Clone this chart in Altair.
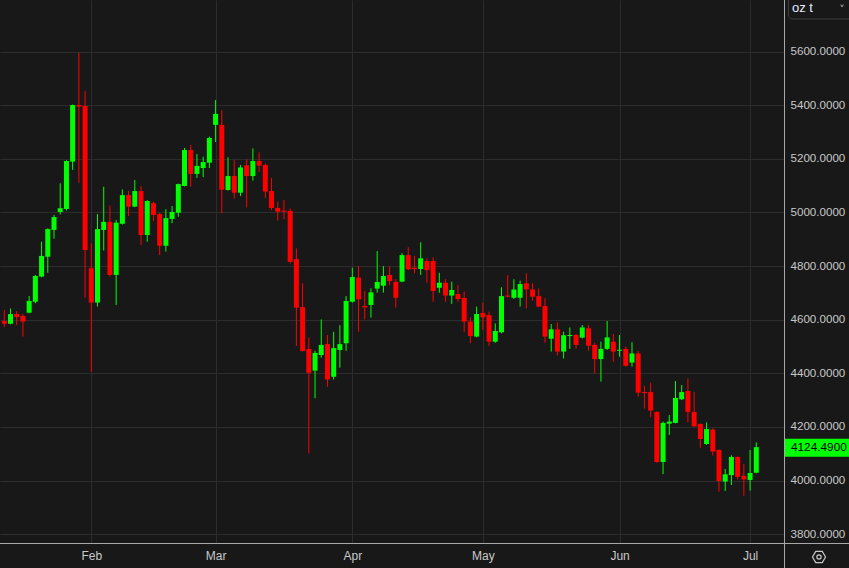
import altair as alt
import pandas as pd
import numpy as np

opens = [4595, 4585, 4621, 4614, 4626, 4667, 4761, 4835, 4935, 5002,
         5013, 5190, 5401, 5397, 4792, 4664, 4935, 4965, 4767, 4958,
         5065, 5022, 5080, 4916, 5035, 4994, 4876, 4976, 4999, 5099,
         5233, 5144, 5166, 5186, 5327, 5327, 5084, 5136, 5074, 5176,
         5136, 5192, 5177, 5080, 5017, 5007, 5006, 4826, 4647, 4491,
         4410, 4468, 4509, 4387, 4487, 4512, 4667, 4757, 4651, 4655,
         4716, 4727, 4767, 4741, 4742, 4841, 4794, 4789, 4819, 4819,
         4719, 4738, 4690, 4696, 4681, 4593, 4537, 4625, 4617, 4518,
         4553, 4690, 4682, 4682, 4736, 4713, 4688, 4651, 4529, 4564,
         4481, 4539, 4543, 4533, 4568, 4506, 4453, 4491, 4518, 4484,
         4491, 4440, 4474, 4330, 4330, 4256, 4069, 4212, 4215, 4303,
         4334, 4256, 4211, 4136, 4190, 4114, 3996, 4020, 4088, 4018,
         4002, 4029]
highs = [4636, 4642, 4632, 4621, 4688, 4767, 4891, 4941, 4991, 5109,
         5195, 5403, 5596, 5453, 4885, 4994, 5096, 5026, 4972, 5086,
         5080, 5121, 5099, 5046, 5040, 4999, 5012, 5024, 5108, 5241,
         5252, 5218, 5208, 5283, 5420, 5382, 5206, 5196, 5177, 5198,
         5239, 5224, 5183, 5129, 5040, 5047, 5015, 4866, 4736, 4534,
         4484, 4601, 4543, 4555, 4580, 4688, 4794, 4800, 4707, 4717,
         4856, 4800, 4798, 4751, 4848, 4870, 4838, 4889, 4829, 4833,
         4775, 4751, 4742, 4729, 4705, 4609, 4649, 4663, 4630, 4586,
         4721, 4767, 4751, 4746, 4773, 4736, 4717, 4680, 4584, 4590,
         4555, 4571, 4547, 4580, 4580, 4514, 4518, 4595, 4547, 4543,
         4500, 4516, 4483, 4353, 4365, 4258, 4220, 4244, 4371, 4356,
         4381, 4330, 4213, 4217, 4195, 4116, 4043, 4094, 4090, 4062,
         4114, 4142]
lows = [4572, 4583, 4580, 4537, 4624, 4661, 4758, 4775, 4902, 4993,
        5007, 5159, 5111, 4682, 4406, 4649, 4858, 4761, 4655, 4955,
        4987, 5020, 4879, 4891, 4968, 4841, 4854, 4960, 4984, 5097,
        5096, 5129, 5132, 5166, 5263, 4997, 5082, 5052, 5061, 5019,
        5119, 5152, 5055, 5009, 4970, 4975, 4810, 4502, 4481, 4101,
        4307, 4458, 4350, 4377, 4421, 4484, 4664, 4555, 4601, 4608,
        4701, 4701, 4729, 4645, 4740, 4785, 4773, 4767, 4738, 4667,
        4701, 4667, 4659, 4667, 4555, 4512, 4534, 4561, 4502, 4514,
        4549, 4683, 4677, 4649, 4642, 4671, 4646, 4514, 4481, 4466,
        4455, 4491, 4491, 4530, 4484, 4400, 4369, 4487, 4443, 4462,
        4425, 4425, 4313, 4268, 4236, 4066, 4024, 4170, 4213, 4300,
        4218, 4200, 4122, 4133, 4093, 3958, 3961, 3983, 4004, 3943,
        3962, 4027]
closes = [4585, 4621, 4610, 4593, 4670, 4763, 4838, 4938, 4983, 5016,
          5192, 5401, 5395, 4860, 4664, 4938, 4965, 4767, 4962, 5065,
          5022, 5080, 4916, 5043, 4991, 4876, 4979, 5002, 5106, 5233,
          5144, 5174, 5188, 5278, 5368, 5085, 5136, 5074, 5168, 5136,
          5192, 5175, 5078, 5017, 5003, 5003, 4816, 4645, 4483, 4402,
          4476, 4506, 4377, 4494, 4509, 4670, 4759, 4676, 4646, 4702,
          4741, 4763, 4744, 4682, 4841, 4788, 4789, 4829, 4785, 4707,
          4738, 4690, 4711, 4677, 4593, 4539, 4621, 4609, 4518, 4558,
          4688, 4686, 4713, 4733, 4713, 4686, 4649, 4537, 4564, 4481,
          4542, 4543, 4506, 4571, 4503, 4453, 4491, 4534, 4481, 4488,
          4428, 4474, 4328, 4326, 4261, 4069, 4215, 4220, 4308, 4330,
          4256, 4202, 4155, 4192, 4108, 3998, 4023, 4088, 4014, 4004,
          4028, 4124.49]

month_names = ["Feb", "Mar", "Apr", "May", "Jun", "Jul"]
month_pos = [15, 35, 57, 78, 100, 121]
y_ticks = [3800, 4000, 4200, 4400, 4600, 4800, 5000, 5200, 5400, 5600]
unit_label = "oz t"

BG = "#181818"
GRID = "#2c2c2c"
LINE = "#a8a8a8"
TXT = "#c8c8c8"
FONT = "Liberation Sans"

df = pd.DataFrame({
    "i": np.arange(1, len(opens) + 1),
    "open": opens, "high": highs, "low": lows, "close": closes,
})
df["dir"] = np.where(df["close"] >= df["open"], "up", "down")

label_expr = ""
for p, n in zip(month_pos, month_names):
    label_expr += f"datum.value == {p} ? '{n}' : "
label_expr += "''"

xs = alt.Scale(domain=[0.31, 126.46], nice=False, zero=False, padding=0)
ys = alt.Scale(domain=[3766.8, 5792.9], nice=False, zero=False, padding=0)
color = alt.Color("dir:N", scale=alt.Scale(domain=["up", "down"], range=["#00ff00", "#ff0000"]), legend=None)

x_enc = alt.X("i:Q", scale=xs, title=None,
              axis=alt.Axis(values=month_pos, labelExpr=label_expr, grid=True, gridColor=GRID,
                            domain=False, ticks=False, labelPadding=7, labelColor=TXT,
                            labelFontSize=12, labelFont=FONT, orient="bottom"))
y_enc = alt.Y("low:Q", scale=ys, title=None,
              axis=alt.Axis(values=y_ticks, format=".4f", orient="right", grid=True, gridColor=GRID,
                            domain=False, ticks=False, labelPadding=6, labelColor=TXT,
                            labelFontSize=11.6, labelFont=FONT, labelBaseline="middle"))

wicks = alt.Chart(df).mark_rule(strokeWidth=1).encode(x=x_enc, y=y_enc, y2="high:Q", color=color)
bodies = alt.Chart(df).mark_bar(size=5).encode(x="i:Q", y="open:Q", y2="close:Q", color=color)

one = pd.DataFrame({"k": [0]})
last = closes[-1]
tag = pd.DataFrame({"v": [last], "lo": [last - 36], "hi": [last + 31], "label": [f"{last:.4f}"]})

vsep = alt.Chart(one).mark_rule(color=LINE, strokeWidth=1).encode(
    x=alt.value(784.5), y=alt.value(0), y2=alt.value(568))
hsep = alt.Chart(one).mark_rule(color=LINE, strokeWidth=1).encode(
    x=alt.value(0), x2=alt.value(849), y=alt.value(543.5))

tag_rect = alt.Chart(tag).mark_rect(color="#00ff00").encode(
    x=alt.value(785), x2=alt.value(849), y="lo:Q", y2="hi:Q")
tag_text = alt.Chart(tag).mark_text(align="left", baseline="middle", color="#000000",
                                    font=FONT, fontSize=11.8).encode(
    x=alt.value(791), y="v:Q", text="label:N")

dd_box = alt.Chart(one).mark_rect(fill=BG, stroke="#3c3c3c", strokeWidth=1, cornerRadius=4).encode(
    x=alt.value(788.5), x2=alt.value(853), y=alt.value(-4), y2=alt.value(19))
dd_text = alt.Chart(one).mark_text(align="left", baseline="middle", color="#e4ecff",
                                   font=FONT, fontSize=13).encode(
    x=alt.value(792), y=alt.value(7.5), text=alt.value(unit_label))
dd_chev = alt.Chart(one).mark_text(align="center", baseline="middle", color="#bbbbbb",
                                   font="DejaVu Sans", fontSize=11).encode(
    x=alt.value(842), y=alt.value(10), text=alt.value("˅"))

hexagon = alt.Chart(one).mark_point(
    shape="M-1,0L-0.5,-0.85L0.5,-0.85L1,0L0.5,0.85L-0.5,0.85Z",
    filled=False, stroke="#c8c8c8", strokeWidth=1.2, size=170, opacity=1).encode(
    x=alt.value(819), y=alt.value(557))
hex_dot = alt.Chart(one).mark_point(shape="circle", filled=False, stroke="#c8c8c8",
                                    strokeWidth=1.2, size=18, opacity=1).encode(
    x=alt.value(819), y=alt.value(557))

chart = alt.layer(wicks, bodies, vsep, hsep, tag_rect, tag_text, dd_box, dd_text, dd_chev,
                  hexagon, hex_dot).properties(
    width=784, height=543,
    autosize=alt.AutoSizeParams(type="none"),
    padding={"left": 0, "top": 0, "right": 65, "bottom": 25},
    background=BG,
).configure_view(stroke=None)

chart.save("out.html", embed_options={"renderer": "svg", "actions": False})
